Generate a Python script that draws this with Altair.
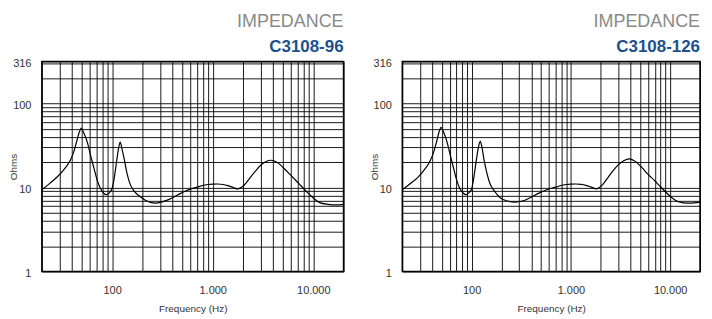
import altair as alt
import pandas as pd

# Impedance curve, left model (C3108-96)
freq_left = [20, 24, 28.7, 33, 36, 38.7, 41.5, 44.3, 47, 49.3, 52, 56.6, 61, 66.1, 71, 76.4, 82, 88, 94,
             100, 105, 111.7, 116, 120.3, 125, 131.6, 140, 150, 165, 189, 221, 268, 320, 391, 470,
             571, 700, 834, 1000, 1125, 1270, 1418, 1600, 1768, 2060, 2390, 2700, 3000, 3400,
             3780, 4400, 5130, 6000, 6900, 7700, 8600, 10000, 11600, 14000, 17000, 20000]
ohm_left = [9.4, 11.2, 13.5, 16.2, 18.6, 21.5, 26.5, 35, 45, 51, 45, 34.7, 24, 16.8, 12.2, 9.8, 8.6, 8.2, 8.7,
            9.8, 13, 22, 29.5, 34.7, 29, 22, 15, 11.2, 9.1, 7.8, 6.9, 6.5, 6.8, 7.45, 8.4,
            9.35, 10.1, 10.7, 10.95, 11.0, 10.85, 10.5, 10.0, 9.6, 10.7, 13.4, 16.0, 18.4, 20.4,
            21.1, 19.8, 16.8, 13.9, 11.7, 10.2, 8.9, 7.5, 6.6, 6.3, 6.2, 6.3]

# Impedance curve, right model (C3108-126)
freq_right = [20, 24, 28.7, 33, 36, 38.5, 41.5, 44.3, 47, 49.2, 52, 56.6, 61, 66, 71, 76.4, 82, 88, 94,
              100, 105, 111.7, 117, 122, 127, 133, 142, 152, 168, 195, 230, 272, 325, 391, 470,
              571, 700, 834, 1000, 1120, 1270, 1420, 1600, 1810, 2100, 2400, 2700, 3000, 3400,
              3870, 4500, 5200, 6000, 6950, 7800, 8700, 10200, 12000, 15500, 20000]
ohm_right = [9.4, 11.1, 13.2, 16.0, 18.4, 21.2, 26.5, 35, 46, 52, 46, 34.4, 24, 16.6, 12.0, 9.6, 8.6, 8.2, 8.7,
             9.6, 13, 21.6, 30, 35.4, 30, 21.6, 15, 11.3, 9.2, 7.5, 6.9, 6.7, 6.9, 7.6, 8.5,
             9.4, 10.1, 10.7, 10.95, 11.0, 10.9, 10.6, 10.1, 9.6, 10.9, 13.5, 16.2, 18.6, 20.8,
             21.9, 20.3, 17.2, 14.3, 12.1, 10.5, 9.2, 7.7, 6.8, 6.5, 6.7]

# Axis grid values and tick labels
x_grid = [20, 30, 40, 50, 60, 70, 80, 90, 100, 200, 300, 400, 500, 600, 700, 800, 900,
          1000, 2000, 3000, 4000, 5000, 6000, 7000, 8000, 9000, 10000, 20000]
x_label_values = [100, 1000, 10000]
x_label_texts = ["100", "1.000", "10.000"]
y_grid = [1, 2, 3, 4, 5, 6, 7, 8, 9, 10, 20, 30, 40, 50, 60, 70, 80, 90, 100, 200, 300, 316]
y_label_values = [1, 10, 100, 316]
y_label_texts = ["1", "10", "100", "316"]

titles = ["C3108-96", "C3108-126"]

FONT = "Liberation Sans"


def label_expr(values, texts):
    expr = "''"
    for v, t in zip(reversed(values), reversed(texts)):
        expr = f"datum.value == {v} ? '{t}' : ({expr})"
    return expr


def panel(freqs, ohms, model, w):
    df = pd.DataFrame({"f": freqs, "z": ohms})
    return alt.Chart(df).mark_line(
        color="black", strokeWidth=1.2, interpolate="monotone"
    ).encode(
        x=alt.X("f:Q",
                scale=alt.Scale(type="log", domain=[20, 20000], nice=False),
                axis=alt.Axis(values=x_grid, labelExpr=label_expr(x_label_values, x_label_texts),
                              title="Frequency (Hz)", ticks=False, tickSize=0, domain=False,
                              labelPadding=13, titlePadding=8, labelFontSize=11,
                              titleFontSize=10, labelFlush=False)),
        y=alt.Y("z:Q",
                scale=alt.Scale(type="log", domain=[1, 316], nice=False),
                axis=alt.Axis(values=y_grid, labelExpr=label_expr(y_label_values, y_label_texts),
                              title="Ohms", ticks=False, tickSize=0, domain=False,
                              labelPadding=11, labelFontSize=11, labelOffset=2,
                              titleFontSize=10, titleX=-23, labelFlush=False)),
    ).properties(
        width=w, height=211,
        title=alt.TitleParams(
            text="IMPEDANCE", subtitle=model, anchor="end", frame="group",
            font=FONT, fontSize=18, fontWeight="normal", color="#8a8a8a",
            subtitleFont=FONT, subtitleFontSize=17, subtitleFontWeight="bold",
            subtitleColor="#1d4f8f", subtitlePadding=9, offset=2,
        ),
    )


left = panel(freq_left, ohm_left, titles[0], 303)
right = panel(freq_right, ohm_right, titles[1], 299)

chart = alt.hconcat(left, right, spacing=59, bounds="flush").properties(
    padding={"left": 0, "top": 3, "right": 0, "bottom": 0}
).configure_view(
    stroke="black", strokeWidth=1.5
).configure_axis(
    grid=True, gridColor="#000000", gridWidth=1, gridOpacity=0.9,
    labelFont=FONT, titleFont=FONT, labelColor="#333333", titleColor="#333333",
    titleFontWeight="normal",
)

chart.save("out.html", embed_options={"renderer": "svg", "actions": False})
